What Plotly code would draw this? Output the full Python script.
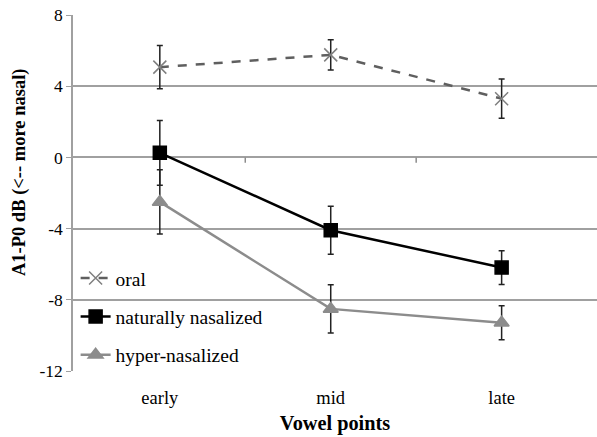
import plotly.graph_objects as go

categories = ["early", "mid", "late"]
oral = [5.07, 5.76, 3.30]
oral_err = [1.22, 0.85, 1.10]
natural = [0.26, -4.09, -6.19]
natural_err = [1.82, 1.35, 0.95]
hyper = [-2.50, -8.51, -9.29]
hyper_err = [1.80, 1.35, 0.95]
y_ticks = [8, 4, 0, -4, -8, -12]

FONT = "Liberation Serif"

fig = go.Figure()

def add(name, y, err, color, dash, symbol, msize, mcolor, lw, group):
    fig.add_trace(go.Scatter(
        x=categories, y=y, name=name, mode="lines+markers",
        legendgroup=group,
        line=dict(color=color, width=lw, dash=dash),
        marker=dict(symbol=symbol, size=msize, color=mcolor,
                    line=dict(color=mcolor, width=1.5)),
        error_y=dict(type="data", array=err, visible=True,
                     color="#222222", thickness=1.5, width=3),
    ))

add("oral", oral, oral_err, "#5f5f5f", "dash", "x-thin-open", 13, "#7f7f7f", 2.5, "a")
add("naturally nasalized", natural, natural_err, "#000000", "solid", "square", 13, "#000000", 2.5, "b")
add("hyper-nasalized", hyper, hyper_err, "#8c8c8c", "solid", "triangle-up", 13, "#8c8c8c", 2.5, "c")

# category boundary tick marks on the zero line (Excel-style axis crossing at 0)
for b in [0.5, 1.5]:
    fig.add_shape(type="line", xref="x", yref="y", x0=b, x1=b,
                  y0=0, y1=-0.3, layer="above",
                  line=dict(color="#8c8c8c", width=1.5))

# y-axis title placed like the original (slightly above plot centre)
fig.add_annotation(text="<b>A1-P0 dB (<-- more nasal)</b>", textangle=-90,
                   xref="paper", yref="paper", x=-0.101, y=0.559,
                   xanchor="center", yanchor="middle", showarrow=False,
                   font=dict(family=FONT, size=18.5, color="#000000"))

fig.update_layout(
    width=597, height=437,
    margin=dict(l=73, r=0, t=15, b=66),
    paper_bgcolor="white", plot_bgcolor="white",
    font=dict(family=FONT, size=18, color="#000000"),
    showlegend=True,
    legend=dict(x=0.005, y=0.315, xanchor="left", yanchor="top",
                bgcolor="rgba(0,0,0,0)", traceorder="grouped",
                tracegroupgap=10, font=dict(family=FONT, size=19.5),
                itemwidth=30),
    xaxis=dict(type="category", range=[-0.508, 2.558],
               showgrid=False, zeroline=False, showline=False,
               ticks="", tickfont=dict(family=FONT, size=18.5),
               ticklabelstandoff=13,
               title=dict(text="<b>Vowel points</b>", standoff=9,
                          font=dict(family=FONT, size=20.3))),
    yaxis=dict(range=[-12, 8], tickvals=y_ticks,
               ticktext=[str(v) for v in y_ticks],
               showgrid=True, gridcolor="#a0a0a0", gridwidth=1.5,
               zeroline=False, showline=True, linecolor="#a0a0a0",
               linewidth=1.5, ticks="outside", ticklen=5,
               tickcolor="#a0a0a0", tickfont=dict(family=FONT, size=17.5)),
)

fig.write_html("out.html")
